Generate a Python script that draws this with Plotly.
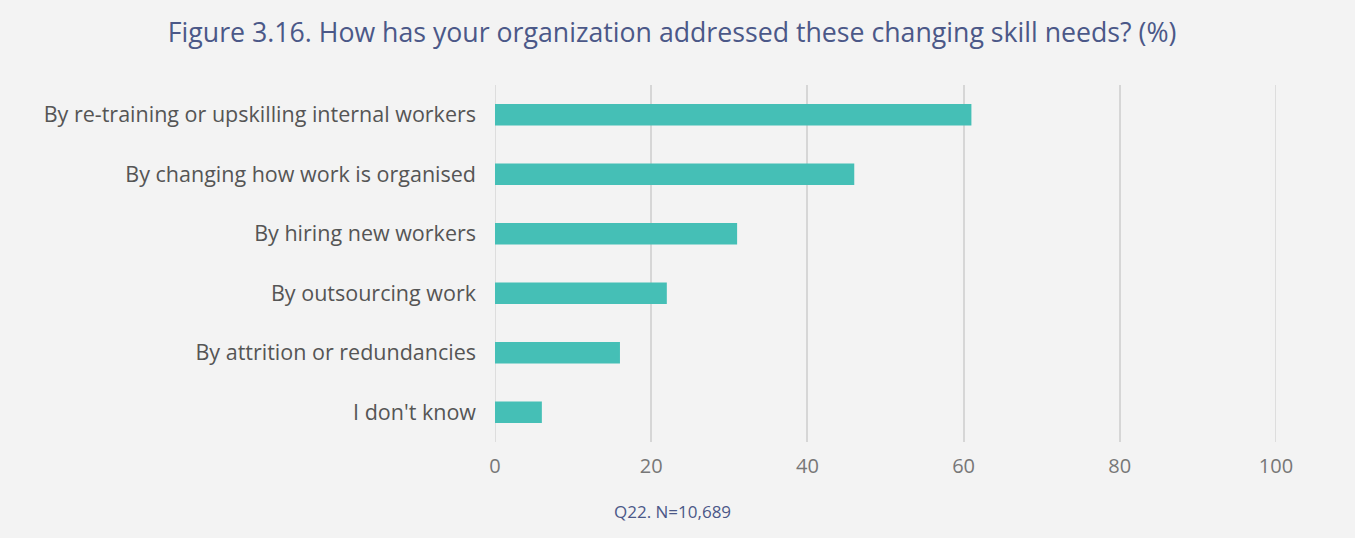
import plotly.graph_objects as go

categories = [
    "By re-training or upskilling internal workers",
    "By changing how work is organised",
    "By hiring new workers",
    "By outsourcing work",
    "By attrition or redundancies",
    "I don't know",
]
values = [61, 46, 31, 22, 16, 6]
tick_vals = [0, 20, 40, 60, 80, 100]

title_text = "Figure 3.16. How has your organization addressed these changing skill needs? (%)"
note_text = "Q22. N=10,689"

fig = go.Figure()
fig.add_trace(go.Bar(
    x=values,
    y=categories,
    orientation="h",
    marker=dict(color="#45bfb6", line=dict(width=0)),
    width=0.36,
    hoverinfo="x+y",
))

fig.update_layout(
    width=1355,
    height=538,
    paper_bgcolor="#f3f3f3",
    plot_bgcolor="#f3f3f3",
    margin=dict(l=495, r=79, t=85, b=96),
    font=dict(family="Open Sans, sans-serif"),
    showlegend=False,
    title=dict(
        text=title_text,
        x=0.496, xanchor="center", xref="container",
        y=0.94, yanchor="middle", yref="container",
        font=dict(size=26.7, color="#4b5888"),
    ),
)

fig.update_xaxes(
    range=[0, 100],
    tickvals=tick_vals,
    showgrid=True,
    gridcolor="#d6d6d6",
    gridwidth=1.5,
    zeroline=False,
    showline=False,
    ticks="",
    tickfont=dict(size=20, color="#777777"),
    ticklabelstandoff=10,
)
fig.update_yaxes(
    categoryorder="array",
    categoryarray=categories[::-1],
    showgrid=False,
    zeroline=False,
    showline=False,
    ticks="",
    ticklabelstandoff=18,
    tickfont=dict(size=21.5, color="#555555"),
)

# gridlines at both ends of the range (plotly skips them on the edges)
for edge in [tick_vals[0], tick_vals[-1]]:
    fig.add_shape(type="line", xref="x", yref="paper", x0=edge, x1=edge, y0=0, y1=1,
                  line=dict(color="#d6d6d6", width=1.5), layer="below")

fig.add_annotation(
    text=note_text,
    xref="paper", yref="paper",
    x=0.227, y=-0.195,
    xanchor="center", yanchor="middle",
    showarrow=False,
    font=dict(size=17, color="#4b5888"),
)

# drop the browser's default page margin so the figure sits at 0,0
fig.write_html("out.html", config={"displayModeBar": False},
               post_script="document.body.style.margin='0';")
